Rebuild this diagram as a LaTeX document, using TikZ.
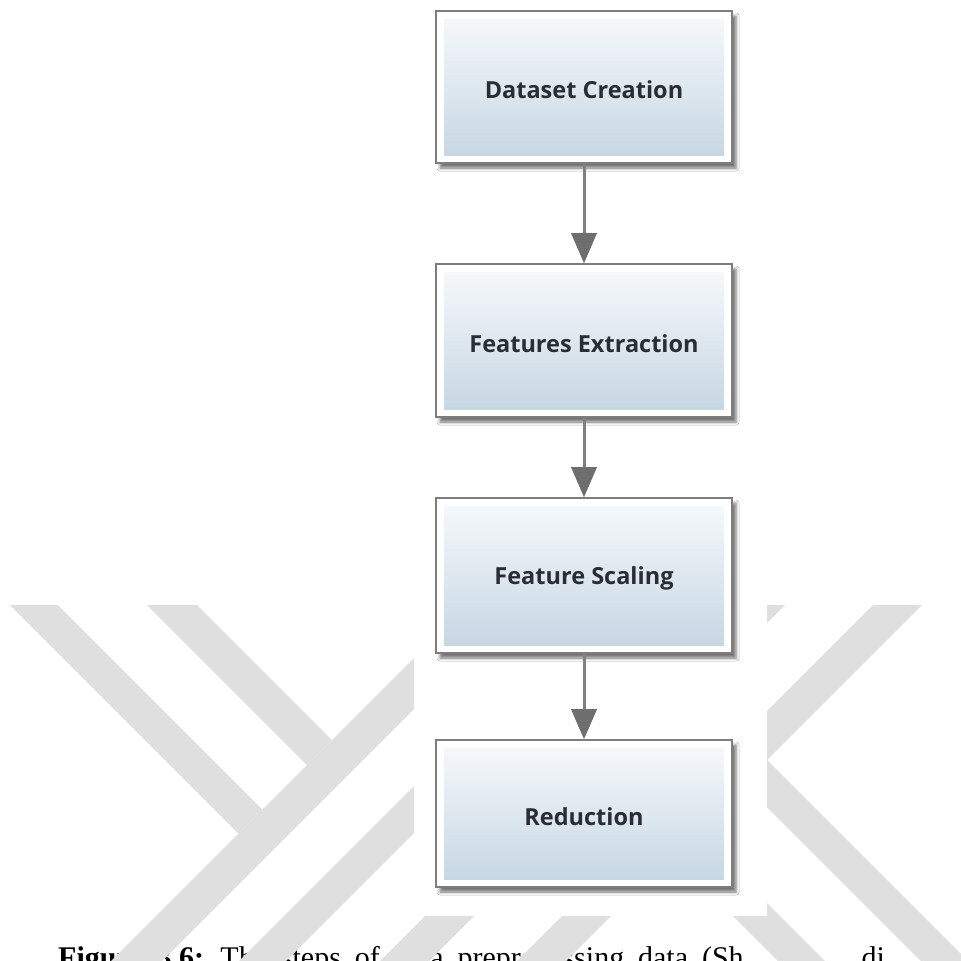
\documentclass[tikz,border=0pt]{standalone}
\usepackage{fontspec}
\setmainfont{Liberation Serif}
\newfontfamily\boxfont{Open Sans}
\usetikzlibrary{shadows.blur, arrows.meta}

\definecolor{wmgray}{RGB}{223,223,223}
\definecolor{boxedge}{RGB}{125,125,125}
\definecolor{boxtop}{RGB}{248,250,252}
\definecolor{boxbot}{RGB}{196,213,226}
\definecolor{boxtext}{RGB}{42,46,52}
\definecolor{linkgray}{RGB}{128,128,128}
\definecolor{headgray}{RGB}{110,110,110}

% box label, drawn a little below the box centre
\newcommand\boxlabel[1]{\raisebox{-3pt}[\height][\depth]{#1}}

\tikzset{
  stepbox/.style={draw=boxedge, line width=1.6pt, fill=white,
    minimum width=296pt, inner sep=0pt,
    font=\boxfont\bfseries\fontsize{23.5}{27}\selectfont, text=boxtext,
    blur shadow={shadow xshift=4pt, shadow yshift=-5pt,
      shadow blur radius=3pt, shadow opacity=55},
    path picture={\shade[top color=boxtop, bottom color=boxbot]
      ([shift={(8pt,-8pt)}]path picture bounding box.north west) rectangle
      ([shift={(-8pt,8pt)}]path picture bounding box.south east);}},
  flow/.style={draw=linkgray, line width=3pt,
    -{Triangle[length=30pt, width=26pt, fill=headgray, line width=0pt]}},
  stripe/.style={fill=wmgray}
}

\begin{document}
\begin{tikzpicture}[x=1pt, y=-1pt]
  \useasboundingbox (0,0) rectangle (961,961);
  \clip (0,0) rectangle (961,961);
  \fill[white] (0,0) rectangle (961,961);

  % caption line, cut by the page edge
  \node[anchor=base west, inner sep=0pt] (cap) at (58,967)
    {\fontsize{30}{36}\selectfont\spaceskip=13.9pt\relax
     \textbf{Figure 3.6:} The steps of data preprocessing data (Sh\hspace{118pt}di};

  % watermark stripes
  \begin{scope}
    \clip (0,605) rectangle (961,961);
    \fill[stripe] (10,605) -- (58,605) -- (262.5,809.5) -- (238.5,833.5) -- cycle;
    \fill[stripe] (147,605) -- (197,605) -- (332,740) -- (307,765) -- cycle;
    \fill[stripe] (467,605) -- (518,605) -- (123,1000) -- (72,1000) -- cycle;
    \fill[stripe] (595,605) -- (642,605) -- (247,1000) -- (200,1000) -- cycle;
    \fill[stripe] (736,605) -- (785,605) -- (390,1000) -- (341,1000) -- cycle;
    \fill[stripe] (873,605) -- (922,605) -- (527,1000) -- (478,1000) -- cycle;
    \fill[stripe] (767,760) -- (1007,1000) -- (960,1000) -- (743.5,783.5) -- cycle;
    \fill[stripe] (627,763) -- (864,1000) -- (817,1000) -- (603.5,786.5) -- cycle;
  \end{scope}

  % white panel behind the flow chart
  \fill[white] (414,0) rectangle (767,916);

  % flow chart
  \node[stepbox, minimum height=152pt] (ds) at (584,87) {\boxlabel{Dataset Creation}};
  \node[stepbox, minimum height=153pt] (fe) at (584,340.5) {\boxlabel{Features Extraction}};
  \node[stepbox, minimum height=155pt] (fs) at (584,575.5) {\boxlabel{Feature Scaling}};
  \node[stepbox, minimum height=147pt] (rd) at (584,813.5) {\boxlabel{Reduction}};

  \draw[flow] (ds) -- (fe);
  \draw[flow] (fe) -- (fs);
  \draw[flow] (fs) -- (rd);
\end{tikzpicture}
\end{document}
